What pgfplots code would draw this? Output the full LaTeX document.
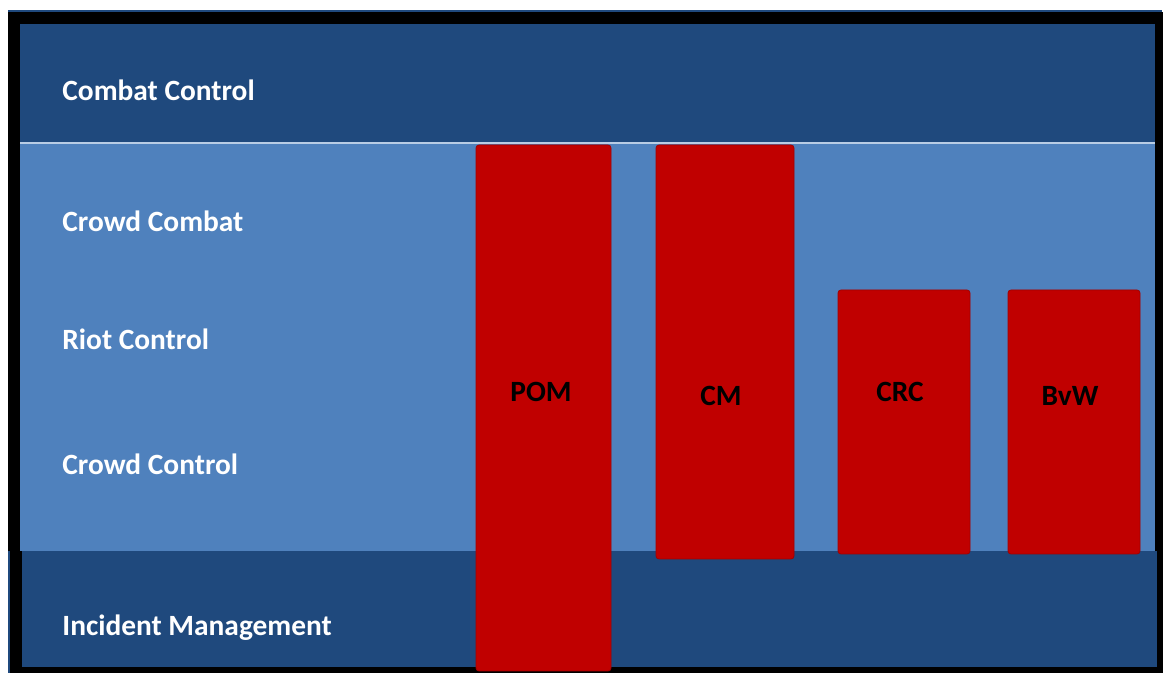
\documentclass[border=0pt]{standalone}
\usepackage{fontspec}
\setmainfont{Carlito}
\usepackage{pgfplots}
\pgfplotsset{compat=1.18}
\definecolor{darkb}{HTML}{1F497D}
\definecolor{lightb}{HTML}{4F81BD}
\definecolor{sepb}{HTML}{B9CDE5}
\definecolor{barred}{HTML}{C00000}
\begin{document}
\begin{tikzpicture}
\begin{axis}[
  width=581.5pt, height=336.5pt, scale only axis,
  xmin=0, xmax=1163, ymin=0, ymax=673, y dir=reverse,
  hide axis, clip=true,
]
% page background
\addplot[fill=white, draw=none] coordinates {(0,0) (1163,0) (1163,673) (0,673)} -- cycle;
% blue frame edge behind
\addplot[fill=darkb, draw=none] coordinates {(8,10) (1162,10) (1162,673) (8,673)} -- cycle;
% black frame
\addplot[fill=black, draw=none] coordinates {(8,12) (1163,12) (1163,551) (8,551)} -- cycle;
\addplot[fill=black, draw=none] coordinates {(10,551) (1163,551) (1163,673) (10,673)} -- cycle;
% bands
\addplot[fill=darkb, draw=none] coordinates {(20,24) (1155,24) (1155,142) (20,142)} -- cycle;
\addplot[fill=sepb, draw=none] coordinates {(20,142) (1155,142) (1155,144) (20,144)} -- cycle;
\addplot[fill=lightb, draw=none] coordinates {(20,144) (1155,144) (1155,551) (20,551)} -- cycle;
\addplot[fill=darkb, draw=none] coordinates {(22,551) (1157,551) (1157,667) (22,667)} -- cycle;
% bars
\addplot[fill=barred, draw=barred!85!black, rounded corners=1.5pt] coordinates {(476,145) (611,145) (611,671) (476,671)} -- cycle;
\addplot[fill=barred, draw=barred!85!black, rounded corners=1.5pt] coordinates {(656,145) (794,145) (794,559) (656,559)} -- cycle;
\addplot[fill=barred, draw=barred!85!black, rounded corners=1.5pt] coordinates {(838,290) (970,290) (970,554) (838,554)} -- cycle;
\addplot[fill=barred, draw=barred!85!black, rounded corners=1.5pt] coordinates {(1008,290) (1140,290) (1140,554) (1008,554)} -- cycle;
% labels
\begin{scope}[every node/.style={font=\fontsize{14.7}{17}\selectfont\bfseries, inner sep=0pt}]
\node[white, anchor=west] at (axis cs:62,90) {Combat Control};
\node[white, anchor=west] at (axis cs:62,221) {Crowd Combat};
\node[white, anchor=west] at (axis cs:62,339) {Riot Control};
\node[white, anchor=west] at (axis cs:62,464) {Crowd Control};
\node[white, anchor=west] at (axis cs:62,628) {Incident Management};
\node[black] at (axis cs:541,392) {POM};
\node[black] at (axis cs:721,396) {CM};
\node[black] at (axis cs:900,392) {CRC};
\node[black] at (axis cs:1070,396) {BvW};
\end{scope}
\end{axis}
\end{tikzpicture}
\end{document}
